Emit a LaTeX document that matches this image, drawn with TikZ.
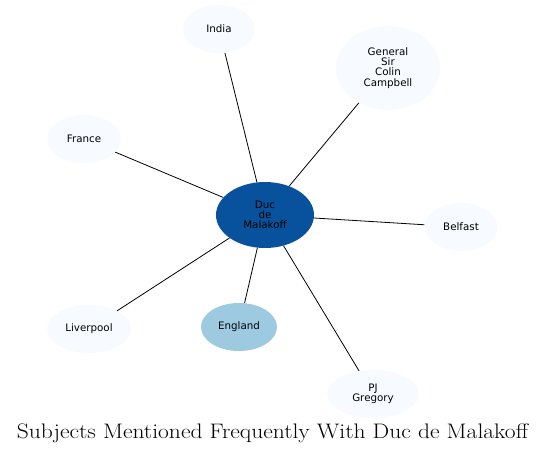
\documentclass[tikz,border=0pt]{standalone}
\usepackage{fontspec}
\usetikzlibrary{shapes.geometric}
\newfontfamily\nodefont{DejaVu Sans}
\definecolor{pale}{HTML}{F7FBFF}
\definecolor{mid}{HTML}{9ECAE1}
\definecolor{deep}{HTML}{08519C}
\begin{document}
\begin{tikzpicture}[x=1pt,y=-1pt,
  nd/.style={ellipse,fill=pale,draw=none,inner sep=0pt,align=center,
    font=\nodefont\fontsize{10.3}{10.2}\selectfont},
  link/.style={draw=black,line width=0.8pt}]
\useasboundingbox (0,0) rectangle (545,455);
\node[nd,minimum width=72,minimum height=48] (india) at (219,29) {India};
\node[nd,minimum width=104,minimum height=84] (campbell) at (388,68) {General\\Sir\\Colin\\Campbell};
\node[nd,minimum width=74,minimum height=48] (france) at (84,139) {France};
\node[nd,fill=deep,minimum width=98,minimum height=66] (duc) at (265,215) {Duc\\de\\Malakoff};
\node[nd,minimum width=73,minimum height=48] (belfast) at (461,227) {Belfast};
\node[nd,minimum width=84,minimum height=48] (liverpool) at (89,329) {Liverpool};
\node[nd,fill=mid,minimum width=76,minimum height=48] (england) at (239,327) {England};
\node[nd,minimum width=92,minimum height=48] (pj) at (373,394) {PJ\\Gregory};
\draw[link] (duc) -- (india);
\draw[link] (duc) -- (campbell);
\draw[link] (duc) -- (france);
\draw[link] (duc) -- (belfast);
\draw[link] (duc) -- (liverpool);
\draw[link] (duc) -- (england);
\draw[link] (duc) -- (pj);
\node[inner sep=0pt,font=\fontsize{21}{24}\selectfont] (title) at (272.5,433) {\scalebox{1.12}[1]{Subjects Mentioned Frequently With Duc de Malakoff}};
\end{tikzpicture}
\end{document}
